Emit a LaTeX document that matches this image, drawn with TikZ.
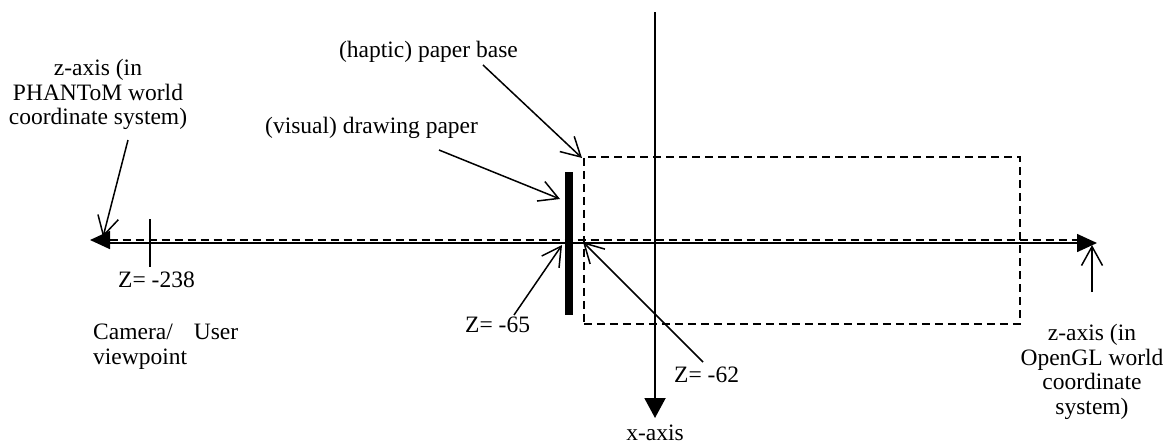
\documentclass[tikz,border=0pt]{standalone}
\usepackage{fontspec}
\setmainfont{Liberation Serif}
\usetikzlibrary{arrows.meta}
\tikzset{tri/.tip={Triangle[length=20pt,width=18pt]},
  xtri/.tip={Triangle[length=20pt,width=21pt]},
  barb/.tip={Straight Barb[length=19pt,width=21pt]}}
\begin{document}
\begin{tikzpicture}[x=1pt,y=-1pt,
  lbl/.style={inner sep=0pt, font=\fontsize{23.5}{24.5}\selectfont},
  axisline/.style={line width=1.5pt},
  ptr/.style={line width=1.5pt, -{barb}},
  dsh/.style={line width=1.8pt, dash pattern=on 8pt off 5pt}]
\useasboundingbox (0,0) rectangle (1169,445);

% coordinates
\coordinate (xtop) at (655,12);
\coordinate (xbot) at (655,418);
\coordinate (zsL) at (110,243);
\coordinate (zsR) at (1097,243);
\coordinate (zdL) at (90,240);
\coordinate (zdR) at (1078,240);
\coordinate (tickT) at (150,219);
\coordinate (tickB) at (150,267);

% haptic paper base (dashed box) and visual drawing paper (bar)
\node[draw, dsh, minimum width=436pt, minimum height=167pt, inner sep=0pt, anchor=north west] (base) at (583,156) {};
\fill (565,172) rectangle (573,315);

% axes
\draw[line width=2pt, -{xtri}] (xtop) -- (xbot);
\draw[axisline, -{tri}] (zsL) -- (zsR);
\draw[dsh, {tri}-] (zdL) -- (zdR);
\draw[axisline] (tickT) -- (tickB);

% labels
\node[lbl, align=center, anchor=north] (phantom) at (98,59) {z-axis (in\\PHANToM world\\coordinate system)};
\node[lbl, align=center, anchor=north] (opengl) at (1092,324) {z-axis (in\\OpenGL world\\coordinate\\system)};
\node[lbl, align=left, anchor=north west] (camera) at (93,324) {\makebox[145pt][s]{Camera/ User}\\viewpoint};
\node[lbl, anchor=base west] (z238) at (118,287) {Z= -238};
\node[lbl, anchor=base west] (z65) at (465,332) {Z= -65};
\node[lbl, anchor=base west] (z62) at (674,382) {Z= -62};
\node[lbl, anchor=base] (xlab) at (655,440) {x-axis};
\node[lbl, anchor=base east] (haptic) at (518,57) {(haptic) paper base};
\node[lbl, anchor=base west] (visual) at (265,133) {(visual) drawing paper};

% pointer ends
\coordinate (pA) at (128,140);   \coordinate (pAt) at (103,237);
\coordinate (hA) at (483,65);    \coordinate (hAt) at (582,158);
\coordinate (vA) at (439,150);   \coordinate (vAt) at (560,199);
\coordinate (aA) at (514,315);   \coordinate (aAt) at (562,245);
\coordinate (bA) at (703,362);   \coordinate (bAt) at (583,242);
\coordinate (oA) at (1092,292);  \coordinate (oAt) at (1092,245);

\draw[ptr] (pA) -- (pAt);
\draw[ptr] (hA) -- (hAt);
\draw[ptr] (vA) -- (vAt);
\draw[ptr] (aA) -- (aAt);
\draw[ptr] (bA) -- (bAt);
\draw[ptr] (oA) -- (oAt);
\end{tikzpicture}
\end{document}
